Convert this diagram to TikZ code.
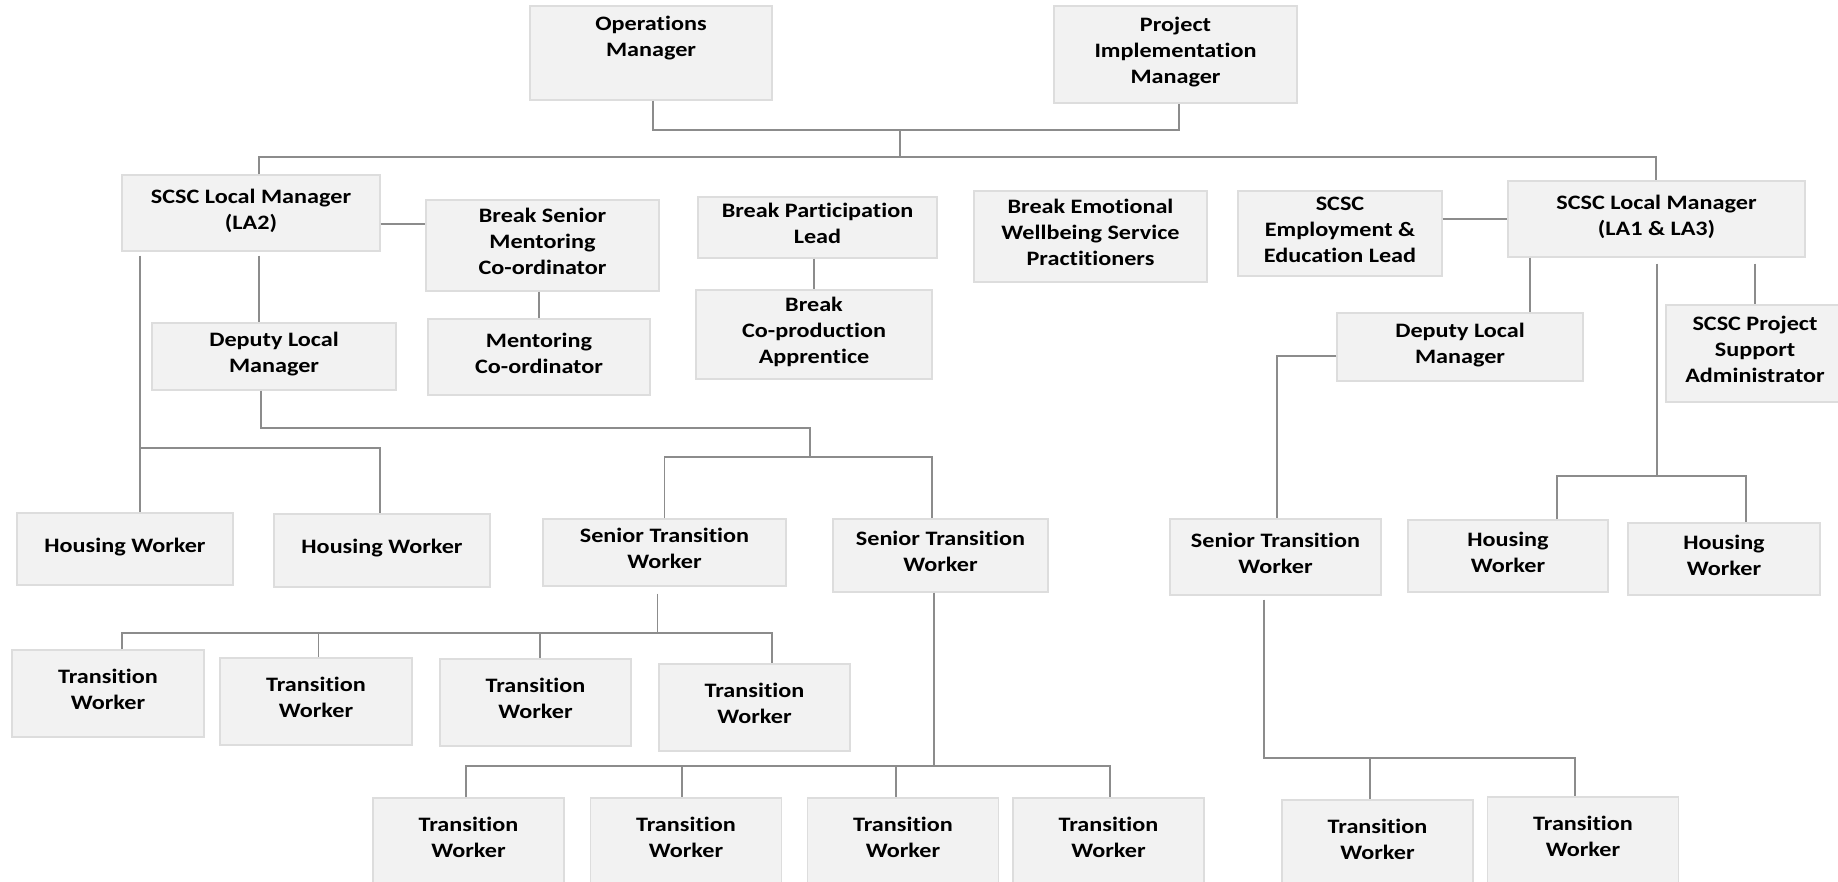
\documentclass[tikz,border=0pt]{standalone}
\usepackage{fontspec}
\setmainfont{Carlito}[FakeStretch=1.18,Ligatures=NoCommon]
\usepackage{tikz}
\usetikzlibrary{positioning}
\definecolor{boxfill}{HTML}{F2F2F2}
\definecolor{boxline}{HTML}{DDDDDD}
\definecolor{wirecol}{HTML}{8C8C8C}
\newcommand{\lowpad}[1]{\rule[-#1]{0pt}{#1}}
\tikzset{x=1pt,y=-1pt,
  box/.style={draw=boxline,fill=boxfill,line width=1.2pt,align=center,inner sep=2pt,
    font=\fontsize{20.5}{26}\selectfont\bfseries,execute at end node={\lowpad{8pt}}},
  sz/.style 2 args={minimum width=#1,minimum height=#2},
  wire/.style={draw=wirecol,line width=1.6pt}}

\begin{document}
\begin{tikzpicture}
    \useasboundingbox (0,0) rectangle (1838,882);
    % managers
    \node[box,sz={242}{94}] (1) at (651,53) {Operations\\Manager\lowpad{33pt}};
    \node[box,sz={243}{97}] (2) at (1175.5,54.5) {Project\\Implementation\\Manager};
    \node[box,sz={258}{76}] (3) at (251,213) {SCSC Local Manager\\(LA2)};
    \node[box,sz={233}{91}] (4) at (542.5,245.5) {Break Senior\\Mentoring\\Co-ordinator};
    \node[box,sz={222}{76}] (5) at (539,357) {Mentoring\\Co-ordinator};
    \node[box,sz={239}{61}] (6) at (817.5,227.5) {Break Participation\\Lead};
    \node[box,sz={236}{89}] (7) at (814,334.5) {Break\\Co-production\\Apprentice};
    \node[box,sz={233}{91}] (8) at (1090.5,236.5) {Break Emotional\\Wellbeing Service\\Practitioners};
    \node[box,sz={204}{85}] (9) at (1340,233.5) {SCSC\\Employment \&\\Education Lead};
    \node[box,sz={297}{76}] (10) at (1656.5,219) {SCSC Local Manager\\(LA1 \& LA3)};
    \node[box,sz={246}{68}] (11) at (1460,347) {Deputy Local\\Manager};
    \node[box,sz={178}{97}] (12) at (1755,353.5) {SCSC Project\\Support\\Administrator};
    \node[box,sz={244}{67}] (13) at (274,356.5) {Deputy Local\\Manager};
    % workers
    \node[box,sz={216}{72}] (14) at (125,549) {Housing Worker};
    \node[box,sz={216}{73}] (15) at (382,550.5) {Housing Worker};
    \node[box,sz={243}{67}] (16) at (664.5,552.5) {Senior Transition\\Worker};
    \node[box,sz={215}{73}] (17) at (940.5,555.5) {Senior Transition\\Worker};
    \node[box,sz={211}{76}] (26) at (1275.5,557) {Senior Transition\\Worker};
    \node[box,sz={200}{72}] (29) at (1508,556) {Housing\\Worker};
    \node[box,sz={192}{72}] (30) at (1724,559) {Housing\\Worker};
    \node[box,sz={192}{87}] (18) at (108,693.5) {Transition\\Worker};
    \node[box,sz={192}{87}] (19) at (316,701.5) {Transition\\Worker};
    \node[box,sz={191}{87}] (20) at (535.5,702.5) {Transition\\Worker};
    \node[box,sz={191}{87}] (21) at (754.5,707.5) {Transition\\Worker};
    \node[box,sz={191}{87}] (22) at (468.5,841.5) {Transition\\Worker};
    \node[box,sz={191}{87}] (23) at (686,841.5) {Transition\\Worker};
    \node[box,sz={191}{87}] (24) at (903,841.5) {Transition\\Worker};
    \node[box,sz={191}{87}] (25) at (1108.5,841.5) {Transition\\Worker};
    \node[box,sz={191}{87}] (27) at (1377.5,843.5) {Transition\\Worker};
    \node[box,sz={191}{87}] (28) at (1583,840.5) {Transition\\Worker};
    % bus points
    \coordinate (t1) at (653,130);
    \coordinate (t2) at (1179,130);
    \coordinate (t3) at (900,130);
    \coordinate (b1) at (259,157);
    \coordinate (b2) at (1656,157);
    \coordinate (m1) at (0,224);
    \coordinate (r1) at (1530,300);
    \coordinate (h0) at (1657,476);
    \coordinate (h1) at (1557,476);
    \coordinate (h2) at (1746,476);
    \coordinate (s1) at (1277,356);
    \coordinate (s2) at (1264,758);
    \coordinate (s3) at (1370,758);
    \coordinate (s4) at (1575,758);
    \coordinate (a1) at (140,448);
    \coordinate (a2) at (380,448);
    \coordinate (d1) at (261,428);
    \coordinate (d2) at (810,428);
    \coordinate (d3) at (810,457);
    \coordinate (d4) at (664.5,457);
    \coordinate (d5) at (932,457);
    \coordinate (e0) at (657.5,633);
    \coordinate (e1) at (122,633);
    \coordinate (e2) at (318.5,633);
    \coordinate (e3) at (540,633);
    \coordinate (e4) at (772,633);
    \coordinate (g0) at (934,766);
    \coordinate (g1) at (466,766);
    \coordinate (g2) at (682,766);
    \coordinate (g3) at (896,766);
    \coordinate (g4) at (1110,766);
    % connectors
    \draw[wire] (1.south -| t1) -- (t1) -- (t2) -- (2.south -| t2);
    \draw[wire] (t3) -- (t3 |- b1);
    \draw[wire] (3.north -| b1) -- (b1) -- (b2) -- (10.north -| b2);
    \draw[wire] (3.east |- m1) -- (4.west |- m1);
    \draw[wire] (4.south -| 5.north) -- (5.north);
    \draw[wire] (6.south -| 7.north) -- (7.north);
    \draw[wire] (9.east |- 10.west) -- (10.west);
    \draw[wire] (10.south -| r1) -- (11.north -| r1);
    \draw[wire,shorten <=6pt] (10.south -| 12.north) -- (12.north);
    \draw[wire,shorten <=6pt] (10.south -| h0) -- (h0);
    \draw[wire] (29.north -| h1) -- (h1) -- (h2) -- (30.north -| h2);
    \draw[wire] (11.west |- s1) -- (s1) -- (26.north -| s1);
    \draw[wire,shorten <=4pt] (26.south -| s2) -- (s2) -- (s4) -- (28.north -| s4);
    \draw[wire] (s3) -- (27.north -| s3);
    \draw[wire,shorten <=4pt] (3.south -| a1) -- (14.north -| a1);
    \draw[wire] (a1) -- (a2) -- (15.north -| a2);
    \draw[wire,shorten <=4pt] (3.south -| b1) -- (13.north -| b1);
    \draw[wire] (13.south -| d1) -- (d1) -- (d2) -- (d3);
    \draw[wire] (16.north -| d4) -- (d4) -- (d5) -- (17.north -| d5);
    \draw[wire,shorten <=7pt] (16.south -| e0) -- (e0);
    \draw[wire] (18.north -| e1) -- (e1) -- (e4) -- (21.north -| e4);
    \draw[wire] (e2) -- (19.north -| e2);
    \draw[wire] (e3) -- (20.north -| e3);
    \draw[wire] (17.south -| g0) -- (g0);
    \draw[wire] (22.north -| g1) -- (g1) -- (g4) -- (25.north -| g4);
    \draw[wire] (g2) -- (23.north -| g2);
    \draw[wire] (g3) -- (24.north -| g3);
\end{tikzpicture}
\end{document}
